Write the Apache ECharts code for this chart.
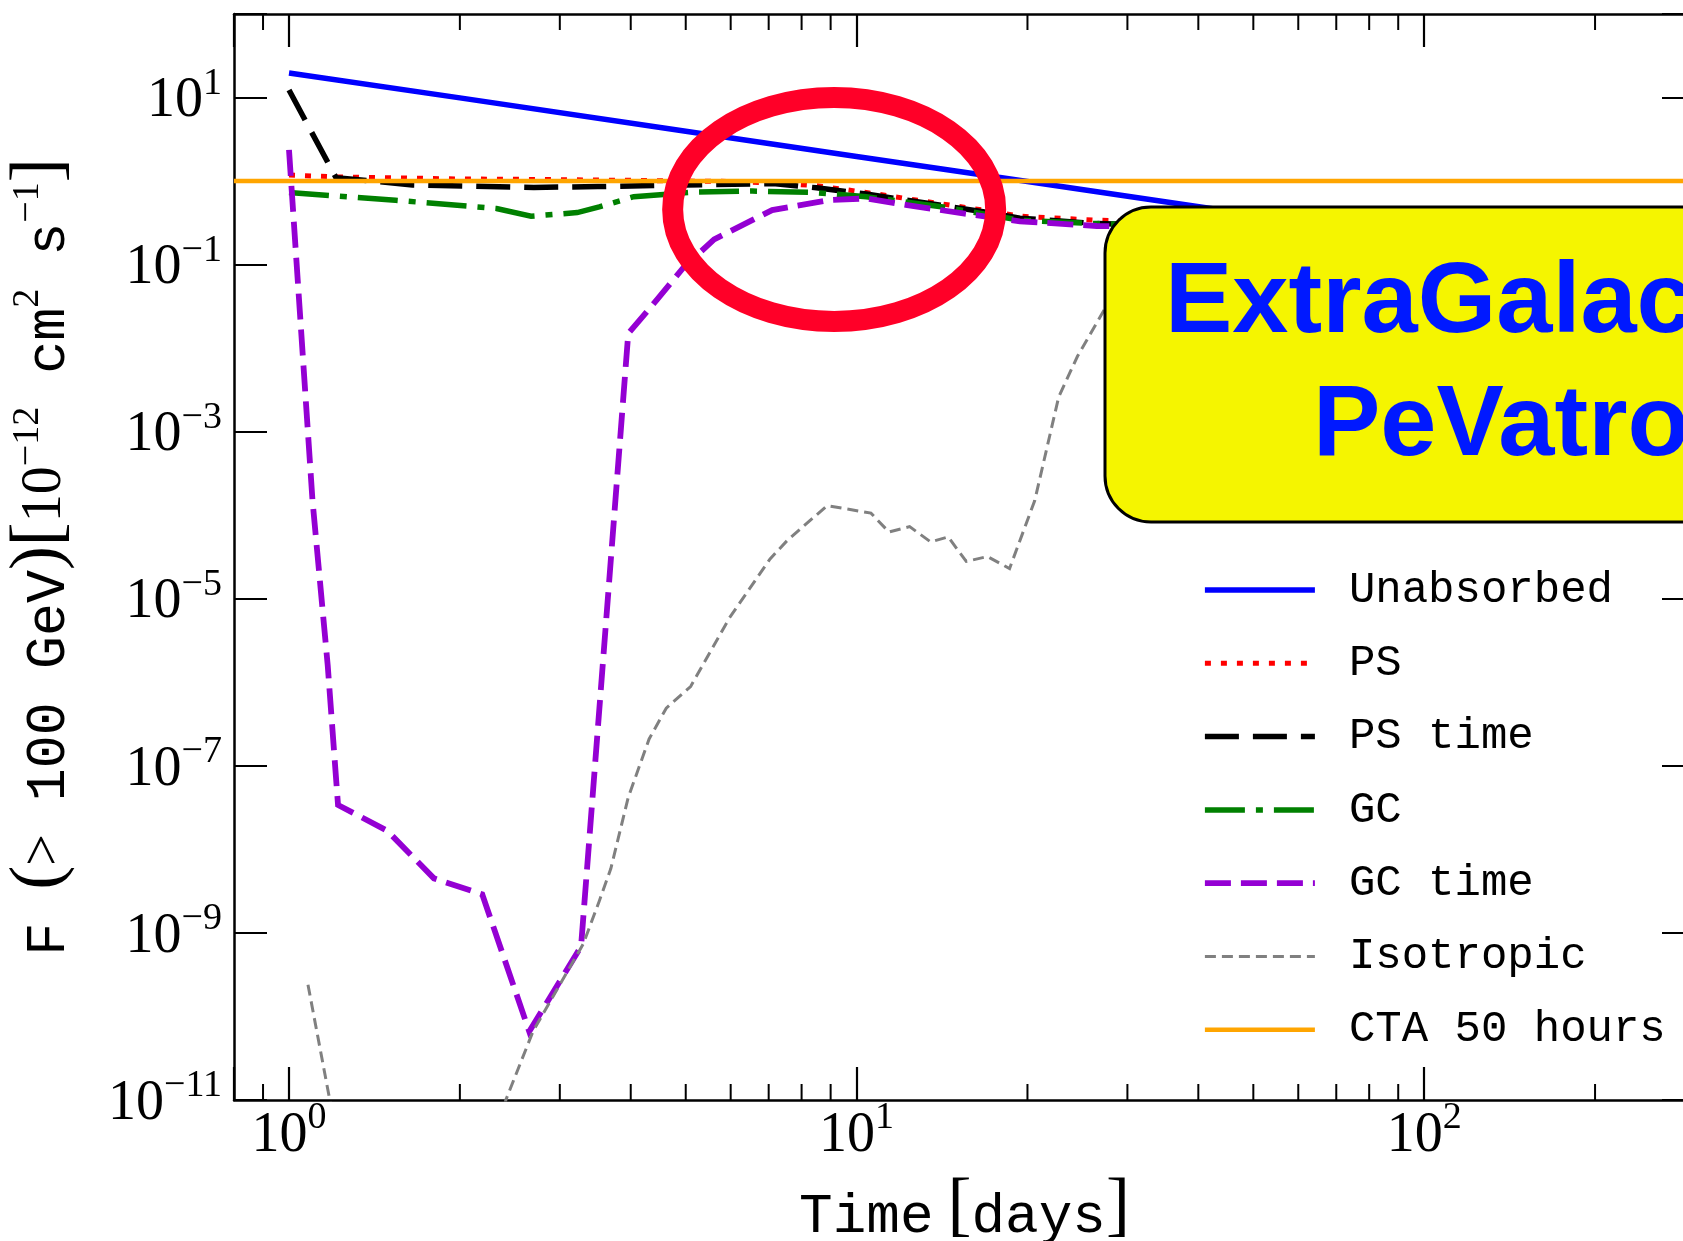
<!DOCTYPE html>
<html>
<head>
<meta charset="utf-8">
<script src="https://cdn.jsdelivr.net/npm/echarts@6/dist/echarts.min.js"></script>
<style>
  html, body { margin: 0; padding: 0; background: #ffffff; }
  #chart { width: 1683px; height: 1241px; }
</style>
</head>
<body>
<div id="chart"></div>
<script>
// ---- light curves: time [days] and F(>100 GeV) [1e-12 cm^-2 s^-1] ----
const unabsorbedT = [1, 2, 5, 10, 20, 50, 100, 300];
const unabsorbedF = [19.7, 9.9, 3.95, 1.97, 0.99, 0.395, 0.197, 0.066];

const psT = [1, 1.21, 2, 3, 4, 5, 6, 7.2, 8.5, 10.4, 16.7, 19.4, 26.5, 40, 100, 300];
const psF = [1.18, 1.12, 1.06, 1.04, 1.02, 1.0, 0.99, 0.95, 0.88, 0.73, 0.45, 0.38, 0.34, 0.32, 0.3, 0.3];

const psTimeT = [1, 1.21, 1.65, 2.7, 3.5, 5, 7.2, 8.5, 10.4, 16.7, 19.4, 26.5, 40, 100, 300];
const psTimeF = [12.3, 1.1, 0.9, 0.84, 0.86, 0.9, 0.93, 0.83, 0.7, 0.43, 0.36, 0.31, 0.29, 0.28, 0.28];

const gcT = [1, 1.54, 2.32, 2.67, 3.22, 3.52, 4.05, 5.2, 6.55, 8.4, 10.4, 14.2, 19.4, 26.5, 40, 100, 300];
const gcF = [0.73, 0.59, 0.47, 0.38, 0.42, 0.49, 0.65, 0.74, 0.76, 0.73, 0.65, 0.49, 0.34, 0.31, 0.29, 0.28, 0.28];

const gcTimeT = [1, 1.1, 1.17, 1.22, 1.49, 1.8, 2.19, 2.65, 3.27, 3.96, 4.45, 4.96, 5.61, 7.1, 8.9, 10.4, 12.2, 15.4, 19.4, 26.5, 40, 100, 300];
const gcTimeF = [2.36, 1.5e-4, 1.6e-6, 3.4e-8, 1.67e-8, 4.5e-9, 2.9e-9, 6.6e-11, 6.9e-10, 0.015, 0.038, 0.093, 0.2, 0.45, 0.59, 0.62, 0.52, 0.41, 0.33, 0.29, 0.28, 0.28, 0.28];

const isoT = [1.08, 1.18, 1.25, 2.3, 2.41, 2.69, 3.3, 3.52, 3.69, 3.96, 4.31, 4.62, 5.1, 5.97, 7.04, 7.55, 8.87, 9.53, 10.6, 11.4, 12.4, 13.5, 14.5, 15.6, 17.0, 18.6, 20.6, 22.7, 24.5, 27.4, 40, 100, 300];
const isoF = [2.4e-10, 1e-11, 1.5e-12, 2e-12, 1e-11, 6.6e-11, 7.4e-10, 2.4e-9, 5.9e-9, 4.2e-8, 2.1e-7, 4.9e-7, 8.9e-7, 5.9e-6, 3.0e-5, 5.0e-5, 1.3e-4, 1.2e-4, 1.06e-4, 6.3e-5, 7.3e-5, 4.8e-5, 5.5e-5, 2.8e-5, 3.2e-5, 2.3e-5, 1.5e-4, 2.6e-3, 8.0e-3, 0.03, 0.15, 0.26, 0.28];

const ctaT = [0.8, 300];
const ctaF = [1.0, 1.0];

// ---- axes ----
const X_MIN = 0.8, X_MAX = 300;
const Y_MIN = 1e-11, Y_MAX = 100;
const xMajorExponents = [0, 1, 2];
const xMinorTicks = [0.9, 2, 3, 4, 5, 6, 7, 8, 9, 20, 30, 40, 50, 60, 70, 80, 90, 200, 300];
const yTickExponents = [-11, -9, -7, -5, -3, -1, 1];

// annotation texts
const bannerLines = ['ExtraGalactic', 'PeVatrons'];
const highlightCenter = [9.13, 0.457];   // data point the red ring surrounds

// ---- fonts ----
const FAM = {
  serif: "'Liberation Serif', 'DejaVu Serif', serif",
  mono: "'Liberation Mono', 'DejaVu Sans Mono', monospace",
  sans: "'Liberation Sans', Arial, sans-serif"
};
// distance from canvas "middle" baseline to the alphabetic baseline, in em
const MID = { serif: 0.3376, mono: 0.2661, sans: 0.3467 };

// rich-text token whose alphabetic baseline sits `baseline` px below the line top
function tok(family, size, baseline, extra) {
  const h = 2 * (baseline - MID[family] * size);
  return Object.assign({
    fontFamily: FAM[family], fontSize: size, height: h, lineHeight: h,
    verticalAlign: 'top', color: '#000', padding: 0
  }, extra || {});
}

const tickRich = { b: tok('serif', 56, 50), s: tok('serif', 38, 26) };
function powLabel(exp) {
  return '{b|10}{s|' + (exp < 0 ? '\u2212' : '') + Math.abs(exp) + '}';
}
function exponentOf(v) {
  const e = Math.log10(v);
  const r = Math.round(e);
  return Math.abs(e - r) < 1e-6 ? r : null;
}

const xNameRich = { m: tok('mono', 56, 60), w: tok('serif', 56, 60), p: tok('serif', 72, 60) };
const yNameRich = {
  m: tok('mono', 55, 62), p: tok('serif', 72, 62),
  r: tok('serif', 56, 62), s: tok('serif', 38, 38)
};

const axisLineStyle = { color: '#000', width: 2.5 };
const majorTick = { show: true, inside: true, length: 33, lineStyle: { color: '#000', width: 2.2 } };

function zip(t, f) { return t.map((x, i) => [x, f[i]]); }

function lineSeries(name, t, f, color, width, dash, z) {
  return {
    name, type: 'line', data: zip(t, f), z,
    showSymbol: false, symbol: 'none', smooth: false, clip: true,
    lineStyle: { color, width, type: dash, cap: 'butt', join: 'miter' },
    itemStyle: { color },
    emphasis: { disabled: true }
  };
}

const names = ['Unabsorbed', 'PS', 'PS time', 'GC', 'GC time', 'Isotropic', 'CTA 50 hours'];

const chart = echarts.init(document.getElementById('chart'), null, { renderer: 'canvas' });

chart.setOption({
  animation: false,
  backgroundColor: '#ffffff',
  grid: { left: 234, right: -12, top: 14, bottom: 141, containLabel: false, outerBoundsMode: 'none' },
  xAxis: [
    {
      type: 'log', logBase: 10, min: X_MIN, max: X_MAX, position: 'bottom',
      axisLine: { show: true, lineStyle: axisLineStyle },
      axisTick: majorTick,
      splitLine: { show: false }, minorTick: { show: false },
      axisLabel: {
        margin: 5, rich: tickRich,
        formatter: v => { const e = exponentOf(v); return xMajorExponents.includes(e) ? powLabel(e) : ''; }
      },
      name: '{m|Time}{w| }{p|[}{m|days}{p|]}',
      nameLocation: 'middle', nameGap: 56,
      nameTextStyle: { rich: xNameRich }
    },
    {
      type: 'log', logBase: 10, min: X_MIN, max: X_MAX, position: 'top',
      axisLine: { show: true, lineStyle: axisLineStyle },
      axisTick: majorTick, axisLabel: { show: false }, splitLine: { show: false }
    }
  ],
  yAxis: [
    {
      type: 'log', logBase: 10, min: Y_MIN, max: Y_MAX, interval: 2, position: 'left',
      axisLine: { show: true, lineStyle: axisLineStyle },
      axisTick: majorTick,
      splitLine: { show: false },
      axisLabel: {
        margin: 12, rich: tickRich, padding: [8, 0, 0, 0],
        formatter: v => { const e = exponentOf(v); return yTickExponents.includes(e) ? powLabel(e) : ''; }
      },
      name: '{m|F }{p|(}{r|>}{m| 100 GeV}{p|)[}{r|10}{s|\u221212}{m| cm}{s|2}{m| s}{s|\u22121}{p|]}',
      nameLocation: 'middle', nameGap: 119,
      nameTextStyle: { rich: yNameRich }
    },
    {
      type: 'log', logBase: 10, min: Y_MIN, max: Y_MAX, interval: 2, position: 'right',
      axisLine: { show: true, lineStyle: axisLineStyle },
      axisTick: majorTick, axisLabel: { show: false }, splitLine: { show: false }
    }
  ],
  legend: {
    data: names, orient: 'vertical', left: 1202, top: 565, padding: 0,
    itemWidth: 110, itemHeight: 14, itemGap: 23.3,
    selectedMode: false,
    itemStyle: { opacity: 0 },
    lineStyle: { width: 'inherit', type: 'inherit', cap: 'butt' },
    textStyle: { fontFamily: FAM.mono, fontSize: 44, color: '#000', lineHeight: 50, padding: [0, 0, 0, 29] }
  },
  series: [
    lineSeries('Unabsorbed', unabsorbedT, unabsorbedF, '#0000ff', 5.5, 'solid', 2),
    lineSeries('PS', psT, psF, '#ff0000', 5, [6, 10], 3),
    lineSeries('PS time', psTimeT, psTimeF, '#000000', 5.5, [34, 14], 4),
    lineSeries('GC', gcT, gcF, '#008000', 5.5, [40, 11, 7, 11], 5),
    lineSeries('GC time', gcTimeT, gcTimeF, '#9400d3', 5.8, [26, 10], 6),
    lineSeries('Isotropic', isoT, isoF, '#808080', 3, [11, 6], 7),
    lineSeries('CTA 50 hours', ctaT, ctaF, '#ffa500', 4.5, 'solid', 8),
    {
      // minor ticks of the log time axis, mirrored on top and bottom spines
      type: 'custom', name: 'minor ticks', silent: true, clip: false, z: 9,
      data: xMinorTicks.map(v => [v, Y_MIN]),
      encode: { x: 0, y: 1 },
      renderItem(params, api) {
        const x = api.value(0);
        const b = api.coord([x, Y_MIN]);
        const t = api.coord([x, Y_MAX]);
        const st = { stroke: '#000', lineWidth: 2 };
        return {
          type: 'group', children: [
            { type: 'line', shape: { x1: b[0], y1: b[1], x2: b[0], y2: b[1] - 16 }, style: st },
            { type: 'line', shape: { x1: t[0], y1: t[1], x2: t[0], y2: t[1] + 16 }, style: st }
          ]
        };
      }
    }
  ]
});

// annotations: red ring around the convergence region and the yellow banner
const ring = chart.convertToPixel({ xAxisIndex: 0, yAxisIndex: 0 }, highlightCenter);
const bannerRich = { t: tok('sans', 101, 100, { fontWeight: 'bold', fill: '#0019ff', color: '#0019ff' }) };
chart.setOption({
  graphic: [
    {
      type: 'ellipse', z: 100,
      shape: { cx: ring[0], cy: ring[1], rx: 161.5, ry: 112 },
      style: { fill: null, stroke: '#ff0028', lineWidth: 21 }
    },
    {
      type: 'rect', z: 100,
      shape: { x: 1105, y: 207, width: 800, height: 315, r: 46 },
      style: { fill: '#f5f500', stroke: '#000', lineWidth: 3 }
    },
    {
      type: 'text', z: 101, x: 1165, y: 239,
      style: { text: '{t|' + bannerLines[0] + '}', rich: bannerRich, fill: '#0019ff', align: 'left', verticalAlign: 'top' }
    },
    {
      type: 'text', z: 101, x: 1313, y: 362,
      style: { text: '{t|' + bannerLines[1] + '}', rich: bannerRich, fill: '#0019ff', align: 'left', verticalAlign: 'top' }
    }
  ]
});
</script>
</body>
</html>
